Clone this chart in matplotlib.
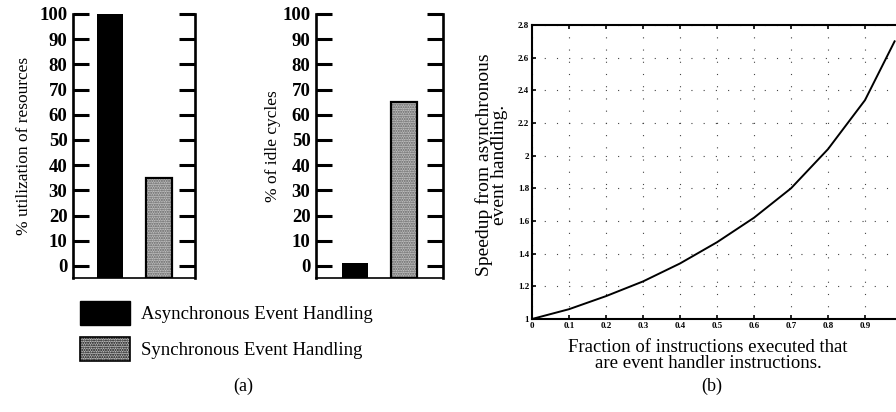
import matplotlib.pyplot as plt
import matplotlib.patches as mpatches
import numpy as np

plt.rcParams['font.family'] = ['Liberation Serif', 'DejaVu Serif']

# bar panels (a)
series = ['Asynchronous Event Handling', 'Synchronous Event Handling']
utilization = [100, 35]
idle = [1, 65]
yticks_a = list(range(0, 101, 10))

# curve panel (b)
frac = [0.0, 0.1, 0.2, 0.3, 0.4, 0.5, 0.6, 0.7, 0.8, 0.9, 0.98]
speedup = [1.0, 1.06, 1.14, 1.23, 1.34, 1.47, 1.62, 1.80, 2.04, 2.34, 2.70]
xticks_b = [0, 0.1, 0.2, 0.3, 0.4, 0.5, 0.6, 0.7, 0.8, 0.9]
xticklabels_b = ['0', '0.1', '0.2', '0.3', '0.4', '0.5', '0.6', '0.7', '0.8', '0.9']
yticks_b = [1, 1.2, 1.4, 1.6, 1.8, 2, 2.2, 2.4, 2.6, 2.8]
yticklabels_b = ['1', '1.2', '1.4', '1.6', '1.8', '2', '2.2', '2.4', '2.6', '2.8']

W, H = 896, 412
fig = plt.figure(figsize=(W / 100, H / 100), dpi=100)


def px_axes(x0, x1, y0, y1):
    return fig.add_axes([x0 / W, 1 - y1 / H, (x1 - x0) / W, (y1 - y0) / H])


grey_face = '#c0c0c0'
grey_hatch = '#5e5e5e'
plt.rcParams['hatch.color'] = grey_hatch


def bar_panel(ax, vals, xlim, ylabel, labelpad):
    pos = np.arange(len(vals))
    bottom = -4.8
    heights = [v - bottom for v in vals]
    ax.bar(pos[0], heights[0], bottom=bottom, width=0.53, color='black', zorder=2)
    ax.bar(pos[1], heights[1], bottom=bottom, width=0.53, color=grey_face,
           hatch='.......', edgecolor=grey_hatch, linewidth=0, zorder=2)
    ax.bar(pos[1], heights[1], bottom=bottom, width=0.53, fill=False,
           edgecolor='black', linewidth=1.6, zorder=3)
    ax.set_xlim(*xlim)
    ax.set_ylim(bottom, 100)
    ax.set_xticks([])
    ax.set_yticks(yticks_a)
    ax.set_yticklabels([str(t) for t in yticks_a], fontsize=13.5, fontweight='bold')
    ax.tick_params(axis='y', direction='in', length=11.5, width=2.2, pad=4,
                   right=True, left=True)
    ax.spines['top'].set_visible(False)
    for s in ['left', 'right']:
        ax.spines[s].set_linewidth(1.9)
    ax.spines['bottom'].set_linewidth(1.2)
    ax.set_ylabel(ylabel, fontsize=12.5, labelpad=labelpad)


ax1 = px_axes(73, 195, 14, 278)
bar_panel(ax1, utilization, (-0.755, 1.745), '% utilization of resources', 5)
ax2 = px_axes(316, 443, 14, 278)
bar_panel(ax2, idle, (-0.796, 1.796), '% of idle cycles', 1)

handles = [mpatches.Patch(facecolor='black', edgecolor='black'),
           mpatches.Patch(facecolor=grey_face, hatch='.......', edgecolor='black', linewidth=1.2)]
fig.legend(handles, series, loc='upper left', bbox_to_anchor=(80 / W, 1 - 301 / H),
           frameon=False, fontsize=13.5, handlelength=2.65, handleheight=1.6,
           labelspacing=0.65, handletextpad=0.6, borderpad=0, borderaxespad=0)

fig.text(243 / W, 1 - 386 / H, '(a)', fontsize=13, ha='center', va='center')

# panel (b)
ax3 = px_axes(532, 902, 25, 319)
ax3.plot(frac, speedup, color='black', linewidth=1.4, zorder=3)
ax3.set_xlim(0, 1)
ax3.set_ylim(1, 2.8)
ax3.set_xticks(xticks_b)
ax3.set_xticklabels(xticklabels_b, fontsize=6.5, fontweight='bold')
ax3.set_yticks(yticks_b)
ax3.set_yticklabels(yticklabels_b, fontsize=6.5, fontweight='bold')
ax3.tick_params(direction='in', length=3, width=1.2, pad=2, top=True)
ax3.grid(True, color='#444444', linestyle=(0, (1, 10)), linewidth=0.8)
for s in ax3.spines.values():
    s.set_linewidth(1.5)
ax3.set_ylabel('Speedup from asynchronous\nevent handling.', fontsize=14,
               linespacing=0.85, multialignment='center')
ax3.yaxis.set_label_coords(-(532 - 508) / 370, (319 - 165) / 294, transform=ax3.transAxes)
ax3.set_xlabel('Fraction of instructions executed that\nare event handler instructions.',
               fontsize=13.5, linespacing=0.9, multialignment='center')
ax3.xaxis.set_label_coords((708 - 532) / 370, -(339 - 319) / 294, transform=ax3.transAxes)
ax3.xaxis.label.set_va('top')

fig.text(712 / W, 1 - 386 / H, '(b)', fontsize=13, ha='center', va='center')

fig.savefig('out.png', dpi=100)
